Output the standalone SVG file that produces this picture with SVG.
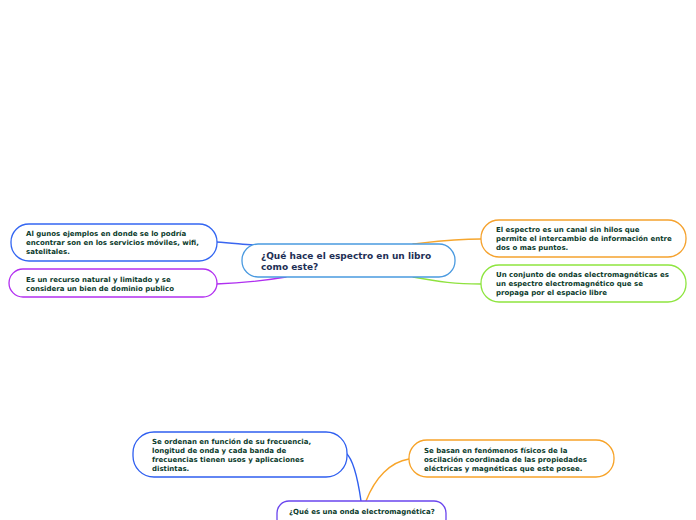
<svg xmlns="http://www.w3.org/2000/svg" width="696" height="520" viewBox="0 0 696 520">
<style>
.n{fill:#fff;stroke-width:1.3}
.t{font-family:"DejaVu Sans","Verdana",sans-serif;font-weight:bold;font-size:7px;fill:#0b3b2c}
.c{font-family:"DejaVu Sans","Verdana",sans-serif;font-weight:bold;font-size:9px;fill:#1e2f55}
.l{fill:none;stroke-width:1.4;stroke-linecap:round}
</style>
<rect width="696" height="520" fill="#fff"/>
<g id="connectors">
<path class="l" stroke="#3a66f0" d="M216,242 C232,243 240,244 254,245"/>
<path class="l" stroke="#b02ff0" d="M216,284 C245,283 262,281 286,277"/>
<path class="l" stroke="#f6a62e" d="M413,244 C440,241 455,239 481,239"/>
<path class="l" stroke="#8fe23f" d="M413,277 C440,282 455,284 481,284"/>
<path class="l" stroke="#2f5ff0" d="M346,453 C354,460 358,480 361,501"/>
<path class="l" stroke="#f8a52a" d="M409,459 C390,462 375,478 366,501"/>
</g>
<g id="n-a">
<rect class="n" x="11" y="224" width="206" height="37" rx="18" stroke="#3366f2"/>
<text class="t" x="26" y="236">Al gunos ejemplos en donde se lo podría</text>
<text class="t" x="26" y="245">encontrar son en los servicios móviles, wifi,</text>
<text class="t" x="26" y="254">satelitales.</text>
</g>
<g id="n-b">
<rect class="n" x="9" y="269" width="208" height="28" rx="14" stroke="#b22ff0"/>
<text class="t" x="26" y="282">Es un recurso natural y limitado y se</text>
<text class="t" x="26" y="291">considera un bien de dominio publico</text>
</g>
<g id="n-central">
<rect class="n" x="242" y="244" width="213" height="33" rx="16" stroke="#4a9ae0"/>
<text class="c" x="261" y="259">¿Qué hace el espectro en un libro</text>
<text class="c" x="261" y="270">como este?</text>
</g>
<g id="n-c">
<rect class="n" x="481" y="220" width="205" height="37" rx="18" stroke="#f5a22e"/>
<text class="t" x="496" y="232">El espectro es un canal sin hilos que</text>
<text class="t" x="496" y="241">permite el intercambio de información entre</text>
<text class="t" x="496" y="250">dos o mas puntos.</text>
</g>
<g id="n-d">
<rect class="n" x="481" y="265" width="205" height="37" rx="18" stroke="#8ee53f"/>
<text class="t" x="496" y="277">Un conjunto de ondas electromagnéticas es</text>
<text class="t" x="496" y="286">un espectro electromagnético que se</text>
<text class="t" x="496" y="295">propaga por el espacio libre</text>
</g>
<g id="n-e">
<rect class="n" x="133" y="432" width="214" height="45" rx="21" stroke="#2f5ff0"/>
<text class="t" x="152" y="444">Se ordenan en función de su frecuencia,</text>
<text class="t" x="152" y="453">longitud de onda y cada banda de</text>
<text class="t" x="152" y="462">frecuencias tienen usos y aplicaciones</text>
<text class="t" x="152" y="471">distintas.</text>
</g>
<g id="n-f">
<rect class="n" x="409" y="440" width="205" height="37" rx="18" stroke="#f7a328"/>
<text class="t" x="424" y="453">Se basan en fenómenos físicos de la</text>
<text class="t" x="424" y="462">oscilación coordinada de las propiedades</text>
<text class="t" x="424" y="471">eléctricas y magnéticas que este posee.</text>
</g>
<g id="n-g">
<rect class="n" x="277" y="501" width="169" height="30" rx="12" stroke="#6a45ee"/>
<text class="t" x="289" y="514">¿Qué es una onda electromagnética?</text>
</g>
</svg>
